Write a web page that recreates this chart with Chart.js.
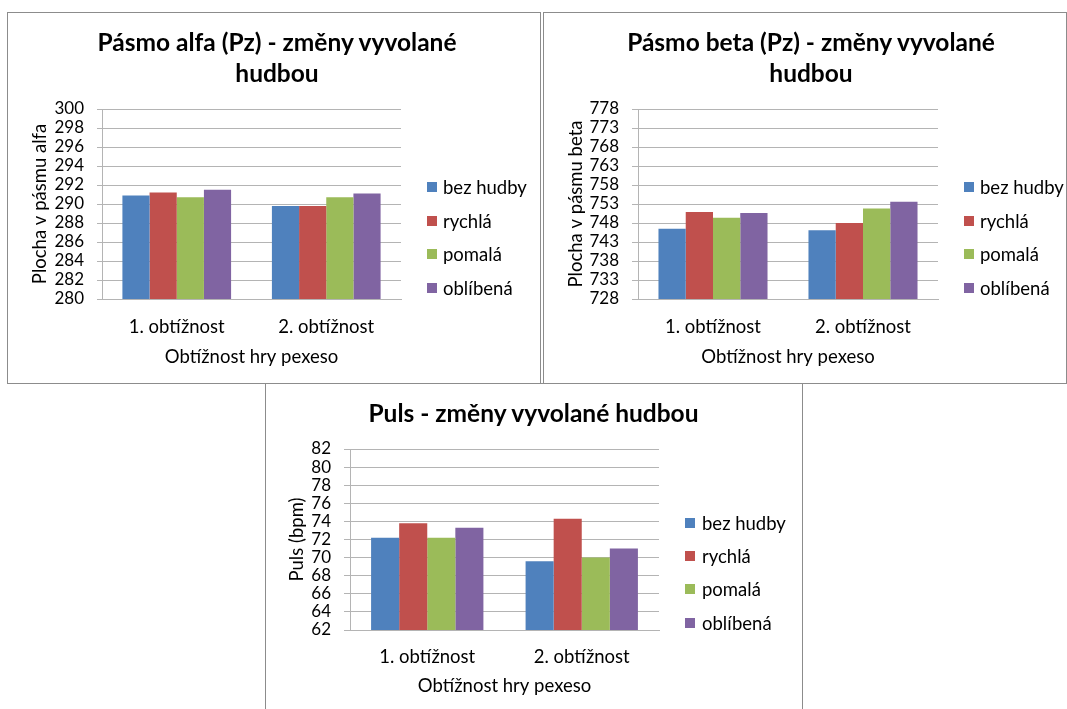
<!DOCTYPE html>
<html lang="cs">
<head>
<meta charset="utf-8">
<title>Změny vyvolané hudbou</title>
<script src="https://cdn.jsdelivr.net/npm/chart.js@4/dist/chart.umd.min.js"></script>
<style>
  html, body { margin: 0; padding: 0; }
  body { width: 1067px; height: 709px; position: relative; overflow: hidden; background: #fff; font-family: Lato, "Open Sans", sans-serif; color: #000; }
  .box { position: absolute; box-sizing: border-box; border: 1px solid #8c8c8c; background: #fff; }
  .box canvas { position: absolute; left: 0; top: 0; }
  .title { position: absolute; font-weight: bold; font-size: 24.5px; line-height: 31.6px; text-align: center; white-space: nowrap; transform: translateX(-50%); }
  .legend-item { position: absolute; white-space: nowrap; font-size: 18.5px; line-height: 22px; height: 22px; }
  .legend-swatch { position: absolute; width: 10px; height: 10px; }
</style>
</head>
<body>

<div class="box" style="left:7px;top:12px;width:534px;height:372px;"><canvas id="alfa" width="532" height="370"></canvas></div>
<div class="box" style="left:543px;top:12px;width:524px;height:372px;"><canvas id="beta" width="522" height="370"></canvas></div>
<div class="box" style="left:265px;top:383px;width:538px;height:330px;"><canvas id="puls" width="536" height="325"></canvas></div>

<div id="overlay"></div>

<script>
// Categories and series shared by all three charts
const categories = ['1. obtížnost', '2. obtížnost'];
const seriesNames = ['bez hudby', 'rychlá', 'pomalá', 'oblíbená'];
const seriesColors = ['#4f81bd', '#c0504d', '#9bbb59', '#8064a2'];
const xAxisTitle = 'Obtížnost hry pexeso';

// Alpha band (Pz): one array per series, values for [1. obtížnost, 2. obtížnost]
const alfaBezHudby = [290.9, 289.8];
const alfaRychla   = [291.2, 289.8];
const alfaPomala   = [290.7, 290.7];
const alfaOblibena = [291.5, 291.1];
const alfaTicks = [280, 282, 284, 286, 288, 290, 292, 294, 296, 298, 300];

// Beta band (Pz)
const betaBezHudby = [746.5, 746.1];
const betaRychla   = [750.9, 748.0];
const betaPomala   = [749.4, 751.8];
const betaOblibena = [750.6, 753.6];
const betaTicks = [728, 733, 738, 743, 748, 753, 758, 763, 768, 773, 778];

// Pulse (bpm)
const pulsBezHudby = [72.2, 69.6];
const pulsRychla   = [73.8, 74.3];
const pulsPomala   = [72.2, 70.0];
const pulsOblibena = [73.3, 71.0];
const pulsTicks = [62, 64, 66, 68, 70, 72, 74, 76, 78, 80, 82];

const gridColor = '#b4b4b4';
const fontFamily = 'Lato, "Open Sans", sans-serif';

function buildChart(canvasId, seriesValues, ticks, yTitle, g) {
  return new Chart(document.getElementById(canvasId), {
    type: 'bar',
    data: {
      labels: categories,
      datasets: seriesNames.map((name, i) => ({
        label: name,
        data: seriesValues[i],
        backgroundColor: seriesColors[i],
        borderWidth: 0,
        categoryPercentage: 0.727,
        barPercentage: 1
      }))
    },
    options: {
      responsive: false,
      animation: false,
      devicePixelRatio: 1,
      layout: { padding: { left: g.padLeft, right: g.padRight, top: g.top, bottom: 0 } },
      plugins: { legend: { display: false }, title: { display: false }, tooltip: { enabled: false } },
      scales: {
        x: {
          grid: { display: false, drawTicks: false },
          border: { display: true, color: gridColor, width: 1 },
          ticks: { color: '#000', font: { family: fontFamily, size: 18.5 }, padding: g.xLabelPad, maxRotation: 0, autoSkip: false },
          title: { display: true, text: xAxisTitle, color: '#000', font: { family: fontFamily, size: 18.5 }, padding: { top: 0, bottom: g.xTitlePad } },
          afterFit(scale) { scale.height = g.xHeight; }
        },
        y: {
          min: ticks[0],
          max: ticks[ticks.length - 1],
          afterBuildTicks(scale) { scale.ticks = ticks.map(v => ({ value: v })); },
          grid: { color: gridColor, lineWidth: 1, drawTicks: true, tickLength: g.tickLen },
          border: { display: true, color: gridColor, width: 1 },
          ticks: { color: '#000', font: { family: fontFamily, size: 17 }, padding: 13, autoSkip: false },
          title: { display: true, text: yTitle, color: '#000', font: { family: fontFamily, size: 18.5 }, padding: { top: g.yTitlePad, bottom: 0 } },
          afterFit(scale) { scale.width = g.yWidth; }
        }
      }
    }
  });
}

// Title and legend text placed over each chart box (page coordinates)
function addTitle(lines, centerX, top) {
  const el = document.createElement('div');
  el.className = 'title';
  el.style.left = centerX + 'px';
  el.style.top = top + 'px';
  el.innerHTML = lines.join('<br>');
  document.getElementById('overlay').appendChild(el);
}

function addLegend(chart, swatchX, textX, rowCenters) {
  const overlay = document.getElementById('overlay');
  chart.data.datasets.forEach((ds, i) => {
    const sw = document.createElement('div');
    sw.className = 'legend-swatch';
    sw.style.left = swatchX + 'px';
    sw.style.top = (rowCenters[i] - 5) + 'px';
    sw.style.background = ds.backgroundColor;
    overlay.appendChild(sw);
    const tx = document.createElement('div');
    tx.className = 'legend-item';
    tx.style.left = textX + 'px';
    tx.style.top = (rowCenters[i] - 11) + 'px';
    tx.textContent = ds.label;
    overlay.appendChild(tx);
  });
}

const alfaChart = buildChart('alfa', [alfaBezHudby, alfaRychla, alfaPomala, alfaOblibena], alfaTicks,
  'Plocha v pásmu alfa',
  { padLeft: 10, yWidth: 84, yTitlePad: 10.9, padRight: 139, top: 96, xHeight: 84, xLabelPad: 16.9, xTitlePad: 14.9, tickLen: 5 });

const betaChart = buildChart('beta', [betaBezHudby, betaRychla, betaPomala, betaOblibena], betaTicks,
  'Plocha v pásmu beta',
  { padLeft: 10, yWidth: 84, yTitlePad: 10.9, padRight: 128, top: 96, xHeight: 84, xLabelPad: 16.9, xTitlePad: 14.9, tickLen: 6 });

const pulsChart = buildChart('puls', [pulsBezHudby, pulsRychla, pulsPomala, pulsOblibena], pulsTicks,
  'Puls (bpm)',
  { padLeft: 10, yWidth: 74, yTitlePad: 9.9, padRight: 143, top: 65, xHeight: 79, xLabelPad: 15.6, xTitlePad: 11.9, tickLen: 6 });

addTitle(['Pásmo alfa (Pz) - změny vyvolané', 'hudbou'], 277, 25.9);
addTitle(['Pásmo beta (Pz) - změny vyvolané', 'hudbou'], 811, 25.9);
addTitle(['Puls - změny vyvolané hudbou'], 533.5, 397.2);

addLegend(alfaChart, 427, 443, [187.3, 220.7, 254, 288]);
addLegend(betaChart, 964, 980, [187.3, 220.7, 254, 288]);
addLegend(pulsChart, 685, 702, [522.7, 556, 589, 622.7]);
</script>
</body>
</html>
